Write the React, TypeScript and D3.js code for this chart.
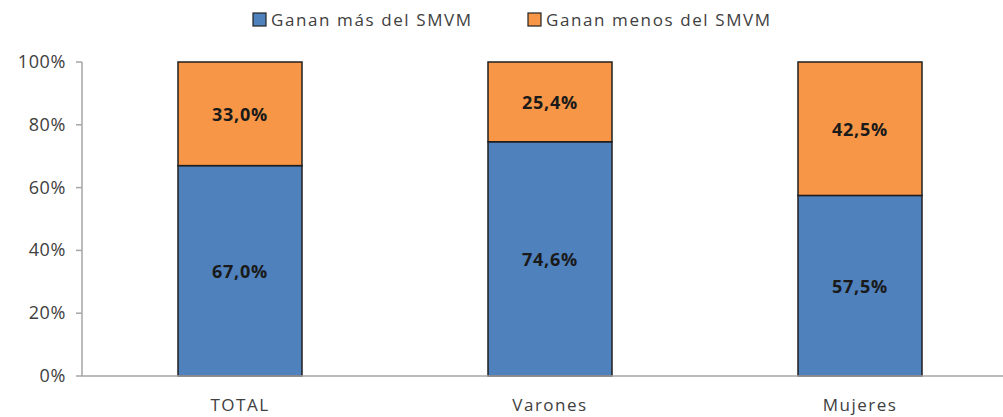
import React from 'react';
import * as d3 from 'd3';

const categories = ['TOTAL', 'Varones', 'Mujeres'];
const seriesNames = ['Ganan más del SMVM', 'Ganan menos del SMVM'];
const masValues = [67.0, 74.6, 57.5];
const menosValues = [33.0, 25.4, 42.5];
const yTicks = [0, 20, 40, 60, 80, 100];
const colors = ['#4f81bd', '#f79646'];

const W = 1003;
const H = 417;
const margin = { top: 62, right: -12, bottom: 41, left: 82 };
const font = '"Open Sans", "Liberation Sans", sans-serif';

export default function App() {
  const x = d3.scaleBand<string>()
    .domain(categories)
    .range([margin.left + 3, W - margin.right])
    .paddingInner(0.6)
    .paddingOuter(0.3);
  const y = d3.scaleLinear().domain([0, 100]).range([H - margin.bottom, margin.top]);

  const rows = categories.map((c, i) => ({ cat: c, mas: masValues[i], menos: menosValues[i] }));
  const stacked = d3.stack<any>().keys(['mas', 'menos'])(rows);
  const fmt = (v: number) => v.toFixed(1).replace('.', ',') + '%';

  const legendX = [253, 528];

  return (
    <svg width={W} height={H} style={{ position: 'absolute', left: 0, top: 0, background: '#fff' }}>
      {/* legend */}
      {seriesNames.map((s, i) => (
        <g key={s} transform={`translate(${legendX[i]},20)`}>
          <rect x={0} y={-7} width={13} height={13} fill={colors[i]} stroke="#222" strokeWidth={1.2} />
          <text x={18} y={6} fontFamily={font} fontSize={17} letterSpacing={1.6} fill="#404040">{s}</text>
        </g>
      ))}

      {/* y axis */}
      <line x1={margin.left} x2={margin.left} y1={y(100)} y2={y(0)} stroke="#a6a6a6" strokeWidth={1.5} />
      {yTicks.map(t => (
        <g key={t}>
          <line x1={margin.left - 6} x2={margin.left} y1={y(t)} y2={y(t)} stroke="#a6a6a6" strokeWidth={1.5} />
          <text x={66} y={y(t) + 6} textAnchor="end" fontFamily={font} fontSize={18} letterSpacing={0.6} fill="#404040">{t}%</text>
        </g>
      ))}

      {/* bars */}
      {stacked.map((layer, li) => (
        <g key={layer.key}>
          {layer.map((d, i) => (
            <g key={i}>
              <rect
                x={x(categories[i])!}
                y={y(d[1])}
                width={x.bandwidth()}
                height={y(d[0]) - y(d[1])}
                fill={colors[li]}
                stroke="#1f1f1f"
                strokeWidth={1.5}
              />
              <text
                x={x(categories[i])! + x.bandwidth() / 2}
                y={(y(d[0]) + y(d[1])) / 2 + 7}
                textAnchor="middle"
                fontFamily={font}
                fontWeight="bold"
                fontSize={18}
                letterSpacing={0.8}
                fill="#1a1a1a"
              >
                {fmt(d[1] - d[0])}
              </text>
            </g>
          ))}
        </g>
      ))}

      {/* x axis */}
      <line x1={margin.left} x2={W} y1={y(0)} y2={y(0)} stroke="#a6a6a6" strokeWidth={1.5} />
      {categories.map(c => (
        <text key={c} x={x(c)! + x.bandwidth() / 2} y={H - 6} textAnchor="middle" fontFamily={font} fontSize={17} letterSpacing={1.5} fill="#404040">
          {c}
        </text>
      ))}
    </svg>
  );
}
